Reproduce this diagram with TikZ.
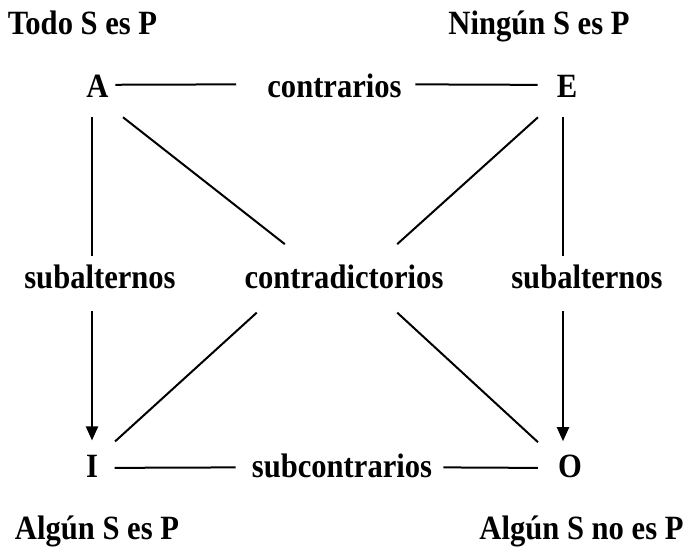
\documentclass[tikz,border=0pt]{standalone}
\usepackage{fontspec}
\setmainfont{Liberation Serif}[FakeStretch=0.9]
\usetikzlibrary{arrows.meta,calc}

\begin{document}
\begin{tikzpicture}[
  x=0.75pt, y=-0.75pt,
  lbl/.style={
    font=\fontsize{25.5}{30}\selectfont\bfseries,
    inner sep=0pt, anchor=base
  },
  line/.style={line width=1.5pt},
  arrow/.style={line width=1.5pt, -{Triangle[length=10.5pt, width=9pt]}},
]
\useasboundingbox (0,0) rectangle (687,548);

% Propositions
\node[lbl] (todo)   at (82.5,35) {Todo S es P};
\node[lbl] (ningun) at (539,35)  {Ningún S es P};
\node[lbl] (A) at (97.5,98) {A};
\node[lbl] (E) at (567,98)  {E};
\node[lbl] (I) at (92,478)  {I};
\node[lbl] (O) at (570,478) {O};
\node[lbl] (algunI) at (97,540)    {Algún S es P};
\node[lbl] (algunO) at (581.5,540) {Algún S no es P};

% Relations
\node[lbl] (contrarios)    at (334.5,98) {contrarios};
\node[lbl] (subcontrarios) at (342,478)  {subcontrarios};
\node[lbl] (subaltA) at (100,289) {subalternos};
\node[lbl] (subaltE) at (587,289) {subalternos};
\node[lbl] (contra)  at (344,289) {contradictorios};

% Top and bottom sides
\draw[line] ($(A.east)+(6.5,-2)$) -- ($(contrarios.west)+(-31,-2)$);
\draw[line] ($(contrarios.east)+(13.5,-2)$) -- ($(E.west)+(-19,-2)$);
\draw[line] ($(I.east)+(16.5,1)$) -- ($(subcontrarios.west)+(-16,1)$);
\draw[line] ($(subcontrarios.east)+(11,1)$) -- ($(O.west)+(-20,1)$);

% Left and right sides
\draw[line] ($(A.south)+(-5.5,19)$) -- ++(0,139);
\draw[arrow] ($(I.north)+(0,-144)$) -- ($(I.north)+(0,-15)$);
\draw[line] ($(E.south)+(-4,19)$) -- ++(0,139);
\draw[arrow] ($(O.north)+(-7,-144)$) -- ($(O.north)+(-7,-14)$);

% Diagonals
\draw[line] ($(A.south)+(25.5,19)$) -- ($(contra.north west)+(40.5,-21)$);
\draw[line] ($(E.south)+(-29,19)$) -- ($(contra.north east)+(-46.5,-21)$);
\draw[line] ($(I.north)+(23,-14)$) -- ($(contra.south west)+(12.5,23)$);
\draw[line] ($(O.north)+(-32,-13)$) -- ($(contra.south east)+(-46.5,23)$);

\end{tikzpicture}
\end{document}
